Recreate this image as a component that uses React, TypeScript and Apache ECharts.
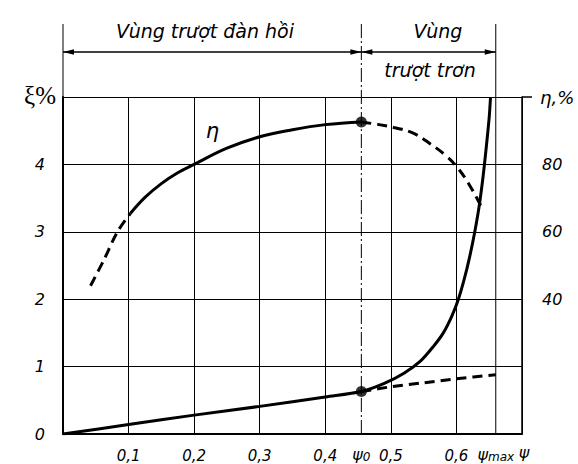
import React, { useEffect, useRef } from 'react';
import * as echarts from 'echarts';

// ψ axis ticks (labelled 0,1 ... 0,6), axis runs to 0.7
const psiTickLabels = ['0,1', '0,2', '0,3', '0,4', '0,5', '0,6'];
const xiTickLabels = ['0', '1', '2', '3', '4'];
const etaTickLabels = ['40', '60', '80'];

const psi0 = 0.455;
const psiMax = 0.66;

// ξ (%) – slip curve, solid
const xiSolid: number[][] = [
  [0, 0], [0.1, 0.14], [0.2, 0.28], [0.3, 0.41], [0.4, 0.55], [0.455, 0.63],
  [0.49, 0.75], [0.52, 0.9], [0.545, 1.08], [0.565, 1.3], [0.58, 1.5], [0.593, 1.75],
  [0.603, 2.0], [0.612, 2.3], [0.62, 2.62], [0.628, 3.0], [0.635, 3.4], [0.641, 3.85],
  [0.646, 4.3], [0.65, 4.7], [0.652, 5.0],
];
// ξ (%) – linear continuation, dashed
const xiDashed: number[][] = [
  [0.455, 0.63], [0.5, 0.7], [0.55, 0.76], [0.6, 0.82], [0.66, 0.88],
];
// η (%) – efficiency curve, right axis
const etaDashStart: number[][] = [
  [0.042, 44], [0.062, 51.5], [0.083, 60], [0.103, 65.5],
];
const etaSolid: number[][] = [
  [0.103, 65.5], [0.125, 70.2], [0.15, 74.3], [0.175, 77.5], [0.2, 80], [0.25, 84.8],
  [0.3, 88.2], [0.35, 90.3], [0.4, 91.8], [0.455, 92.6],
];
const etaDashEnd: number[][] = [
  [0.455, 92.6], [0.482, 91.8], [0.508, 90.8], [0.535, 89.2], [0.561, 86],
  [0.584, 82.6], [0.6, 79.4], [0.618, 74.5], [0.637, 67.8],
];
const dotsXi: number[][] = [[psi0, 0.63]];
const dotsEta: number[][] = [[psi0, 92.6]];

const FONT = 'DejaVu Sans';

export default function App() {
  const ref = useRef<HTMLDivElement>(null);

  useEffect(() => {
    if (!ref.current) return;
    const chart = echarts.init(ref.current, null, { renderer: 'svg' });
    const lineStyleSolid = { color: '#000', width: 3 };
    const lineStyleDash = { color: '#000', width: 3, type: [10, 6] as any };

    chart.setOption({
      animation: false,
      backgroundColor: '#fff',
      grid: { left: 63, right: 56, top: 97, bottom: 30, containLabel: false },
      xAxis: {
        type: 'value', min: 0, max: 0.7, interval: 0.1,
        axisLine: { show: true, lineStyle: { color: '#000', width: 2 } },
        axisTick: { show: false },
        splitLine: { show: true, lineStyle: { color: '#000', width: 1 } },
        axisLabel: {
          color: '#000', fontFamily: FONT, fontStyle: 'italic', fontSize: 15, margin: 14,
          formatter: (v: number) => {
            const i = Math.round(v * 10) - 1;
            return i >= 0 && i < psiTickLabels.length ? psiTickLabels[i] : '';
          },
        },
      },
      yAxis: [
        {
          type: 'value', min: 0, max: 5, interval: 1,
          axisLine: { show: true, lineStyle: { color: '#000', width: 2 } },
          axisTick: { show: false },
          splitLine: { show: true, lineStyle: { color: '#000', width: 1 } },
          axisLabel: {
            color: '#000', fontFamily: FONT, fontStyle: 'italic', fontSize: 16, margin: 18,
            formatter: (v: number) => (v < xiTickLabels.length ? xiTickLabels[v] : ''),
          },
        },
        {
          type: 'value', min: 0, max: 100, interval: 20, position: 'right',
          axisLine: { show: true, onZero: false, lineStyle: { color: '#000', width: 1.5 } },
          axisTick: { show: false },
          splitLine: { show: false },
          axisLabel: {
            color: '#000', fontFamily: FONT, fontStyle: 'italic', fontSize: 16, margin: 20,
            formatter: (v: number) => (etaTickLabels.includes(String(v)) ? String(v) : ''),
          },
        },
      ],
      series: [
        { type: 'line', data: xiSolid, smooth: 0.3, showSymbol: false, lineStyle: lineStyleSolid, z: 5 },
        { type: 'line', data: xiDashed, smooth: 0.3, showSymbol: false, lineStyle: lineStyleDash, z: 5 },
        { type: 'line', yAxisIndex: 1, data: etaDashStart, smooth: 0.3, showSymbol: false, lineStyle: lineStyleDash, z: 5 },
        { type: 'line', yAxisIndex: 1, data: etaSolid, smooth: 0.4, showSymbol: false, lineStyle: lineStyleSolid, z: 5 },
        { type: 'line', yAxisIndex: 1, data: etaDashEnd, smooth: 0.4, showSymbol: false, lineStyle: lineStyleDash, z: 5 },
        { type: 'scatter', data: dotsXi, symbolSize: 11, itemStyle: { color: '#000' }, z: 6 },
        { type: 'scatter', yAxisIndex: 1, data: dotsEta, symbolSize: 11, itemStyle: { color: '#000' }, z: 6 },
      ],
    });

    // Overlay annotations positioned via the chart's own scales
    const px = (x: number, y: number) => chart.convertToPixel({ gridIndex: 0 }, [x, y]) as number[];
    const [x0, yBottom] = px(0, 0);
    const [, yTop] = px(0, 5);
    const [xP0] = px(psi0, 0);
    const [xPm] = px(psiMax, 0);
    const [xEnd] = px(0.7, 0);
    const etaLabelPos = px(0.228, 4.49);
    const extTop = 24;
    const arrowY = 52;
    const labelY = yBottom + 20;

    const arrow = (x: number, y: number, dir: number) => ({
      type: 'polygon',
      shape: { points: [[x, y], [x - dir * 11, y - 2.8], [x - dir * 11, y + 2.8]] },
      style: { fill: '#000' },
      z: 10,
    });

    const txt = (x: number, y: number, text: string, extra: any = {}) => ({
      type: 'text', x, y, z: 10,
      style: {
        text, fill: '#000', fontFamily: FONT, fontStyle: 'italic', fontSize: 15,
        align: 'center', verticalAlign: 'middle', ...extra,
      },
    });

    const psiLabel = (x: number, sub: string) => ({
      type: 'text', x, y: labelY, z: 10,
      style: {
        text: `{a|ψ}{s|${sub}}`, align: 'center', verticalAlign: 'middle',
        rich: {
          a: { fontFamily: FONT, fontStyle: 'italic', fontSize: 16, fill: '#000' },
          s: { fontFamily: FONT, fontStyle: 'italic', fontSize: 12, fill: '#000', padding: [6, 0, 0, 0] },
        },
      },
    });

    chart.setOption({
      graphic: [
        // vertical ψ0 and ψmax lines, and left extension
        { type: 'line', shape: { x1: xP0, y1: yBottom, x2: xP0, y2: extTop }, style: { stroke: '#000', lineWidth: 1, lineDash: [14, 3, 2, 3] }, z: 4 },
        { type: 'line', shape: { x1: xPm, y1: yBottom, x2: xPm, y2: extTop }, style: { stroke: '#000', lineWidth: 1 }, z: 4 },
        { type: 'line', shape: { x1: x0, y1: yTop, x2: x0, y2: extTop }, style: { stroke: '#000', lineWidth: 1 }, z: 4 },
        // top border overhang
        { type: 'line', shape: { x1: xEnd, y1: yTop, x2: xEnd + 10, y2: yTop }, style: { stroke: '#000', lineWidth: 1.5 }, z: 4 },
        // dimension arrows
        { type: 'line', shape: { x1: x0, y1: arrowY, x2: xP0, y2: arrowY }, style: { stroke: '#000', lineWidth: 1.5 }, z: 4 },
        { type: 'line', shape: { x1: xP0, y1: arrowY, x2: xPm, y2: arrowY }, style: { stroke: '#000', lineWidth: 1.5 }, z: 4 },
        arrow(x0, arrowY, -1), arrow(xP0, arrowY, 1), arrow(xP0, arrowY, -1), arrow(xPm, arrowY, 1),
        // zone texts
        txt(205, 31, 'Vùng trượt đàn hồi', { fontSize: 19 }),
        txt(438, 31, 'Vùng', { fontSize: 19 }),
        txt(430, 70, 'trượt trơn', { fontSize: 19 }),
        // axis titles
        txt(40, yTop - 2, 'ξ%', { fontFamily: 'Liberation Serif', fontStyle: 'normal', fontSize: 25 }),
        txt(540, yTop, 'η,%', { align: 'left', fontSize: 18 }),
        // curve label
        txt(etaLabelPos[0], etaLabelPos[1], 'η', { fontSize: 21 }),
        // special ψ labels
        psiLabel(xP0, '0'),
        psiLabel(xPm, 'max'),
        txt(xEnd + 2, labelY - 2, 'ψ', { fontSize: 16 }),
      ],
    });

    return () => chart.dispose();
  }, []);

  return <div ref={ref} style={{ width: 578, height: 464, position: 'absolute', left: 0, top: 0 }} />;
}
